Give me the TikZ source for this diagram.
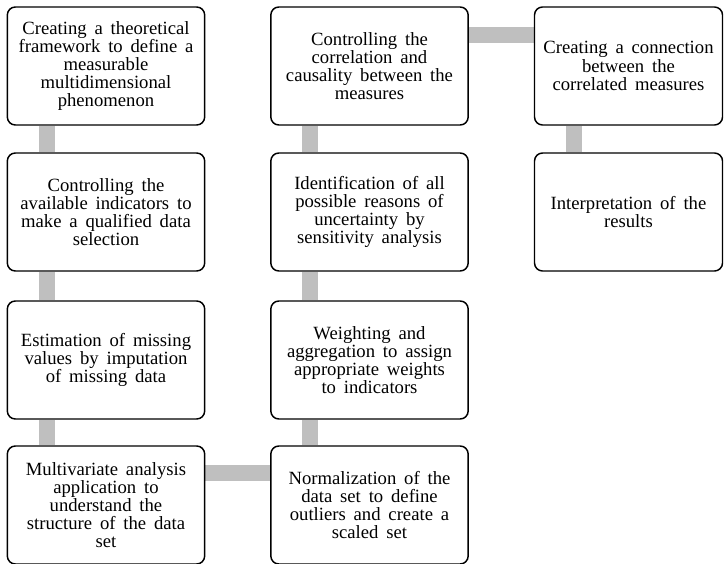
\documentclass[tikz,border=0pt]{standalone}
\usepackage{fontspec}
\setmainfont{Liberation Serif}
\usetikzlibrary{calc,backgrounds}
\definecolor{linkgray}{RGB}{191,191,191}
\newcommand\boxfont{\fontsize{14}{13.6}\selectfont\spaceskip=0.42em plus 0.1em\relax}
\tikzset{
  stepbox/.style={draw=black, line width=1.1pt, rounded corners=6pt, fill=white,
    minimum width=148pt, minimum height=88.5pt, align=center, inner sep=2pt,
    font=\boxfont},
  link/.style={draw=linkgray, line width=12pt}
}
\begin{document}
\begin{tikzpicture}[x=0.75pt, y=-0.75pt]
			%%%%% START %%%%%
			\useasboundingbox (0, 0) rectangle (725, 564);
			
			% first column
			\node[stepbox] (frame) at (106, 66) {Creating a theoretical\\framework to define a\\measurable\\multidimensional\\phenomenon};
			\node[stepbox] (select) at (106, 212) {Controlling the\\available indicators to\\make a qualified data\\selection};
			\node[stepbox] (impute) at (106, 360) {Estimation of missing\\values by imputation\\of missing data};
			\node[stepbox] (multi) at (106, 505) {Multivariate analysis\\application to\\understand the\\structure of the data\\set};
			
			% second column
			\node[stepbox] (norm) at (369.5, 505) {Normalization of the\\data set to define\\outliers and create a\\scaled set};
			\node[stepbox] (weight) at (369.5, 360) {Weighting and\\aggregation to assign\\appropriate weights\\to indicators};
			\node[stepbox] (uncert) at (369.5, 212) {Identification of all\\possible reasons of\\uncertainty by\\sensitivity analysis};
			\node[stepbox] (corr) at (369.5, 66) {Controlling the\\correlation and\\causality between the\\measures};
			
			% third column
			\node[stepbox, minimum width=141pt] (conn) at (628.5, 66) {Creating a connection\\between the\\correlated measures};
			\node[stepbox, minimum width=141pt] (interp) at (628.5, 212) {Interpretation of the\\results};
			
			\begin{scope}[on background layer]
			\draw[link] ($(frame.south west)+(40, 0)$) -- ($(select.north west)+(40, 0)$);
			\draw[link] ($(select.south west)+(40, 0)$) -- ($(impute.north west)+(40, 0)$);
			\draw[link] ($(impute.south west)+(40, 0)$) -- ($(multi.north west)+(40, 0)$);
			\draw[link] ($(multi.north east)+(0, 28)$) -- ($(norm.north west)+(0, 28)$);
			\draw[link] ($(norm.north west)+(40, 0)$) -- ($(weight.south west)+(40, 0)$);
			\draw[link] ($(weight.north west)+(40, 0)$) -- ($(uncert.south west)+(40, 0)$);
			\draw[link] ($(uncert.north west)+(40, 0)$) -- ($(corr.south west)+(40, 0)$);
			\draw[link] ($(corr.north east)+(0, 29)$) -- ($(conn.north west)+(0, 29)$);
			\draw[link] ($(conn.south west)+(40, 0)$) -- ($(interp.north west)+(40, 0)$);
			\end{scope}
			
			%%%%% END %%%%%
\end{tikzpicture}
\end{document}
